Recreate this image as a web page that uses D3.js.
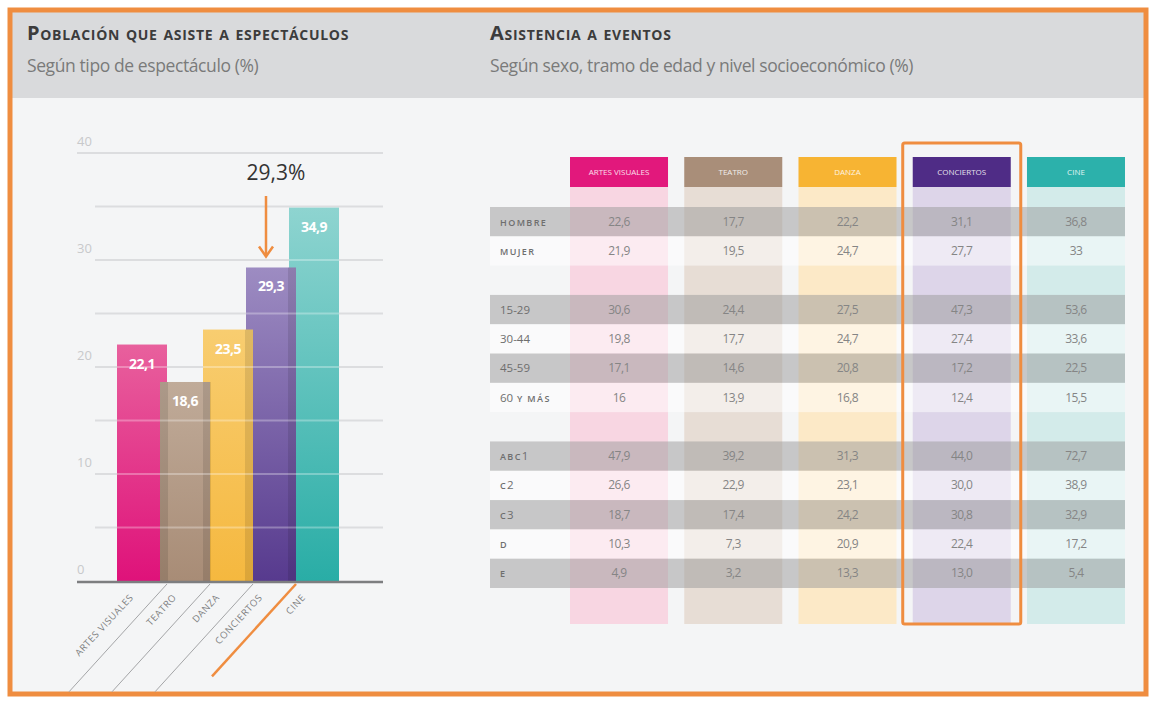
<!DOCTYPE html>
<html>
<head>
<meta charset="utf-8">
<script src="https://cdn.jsdelivr.net/npm/d3@7"></script>
<style>
    body { margin: 0; background: #ffffff; }
    text { font-family: 'Open Sans', sans-serif; }
</style>
</head>
<body>
<svg id="chart" width="1156" height="705"></svg>
<script>
'use strict';

// data
var categories = ['ARTES VISUALES', 'TEATRO', 'DANZA', 'CONCIERTOS', 'CINE'];
var totals = [22.1, 18.6, 23.5, 29.3, 34.9];
var totalLabels = ['22,1', '18,6', '23,5', '29,3', '34,9'];
var highlightLabel = '29,3%';
var yTicks = [0, 10, 20, 30, 40];
var gridTicks = [5, 10, 15, 20, 25, 30, 35, 40];

var rowLabels = ['HOMBRE', 'MUJER', '', '15-29', '30-44', '45-59', '60 Y MÁS', '', 'ABC1', 'C2', 'C3', 'D', 'E'];
var artesValues = ['22,6', '21,9', '', '30,6', '19,8', '17,1', '16', '', '47,9', '26,6', '18,7', '10,3', '4,9'];
var teatroValues = ['17,7', '19,5', '', '24,4', '17,7', '14,6', '13,9', '', '39,2', '22,9', '17,4', '7,3', '3,2'];
var danzaValues = ['22,2', '24,7', '', '27,5', '24,7', '20,8', '16,8', '', '31,3', '23,1', '24,2', '20,9', '13,3'];
var conciertosValues = ['31,1', '27,7', '', '47,3', '27,4', '17,2', '12,4', '', '44,0', '30,0', '30,8', '22,4', '13,0'];
var cineValues = ['36,8', '33', '', '53,6', '33,6', '22,5', '15,5', '', '72,7', '38,9', '32,9', '17,2', '5,4'];
var tableValues = [artesValues, teatroValues, danzaValues, conciertosValues, cineValues];

// styles
var colors = {
    solid: ['#e2187c', '#a98e79', '#f7b433', '#4f2c86', '#2cb1ab'],
    top: ['#e8609d', '#c0ab99', '#f8cd70', '#9d8cc2', '#8ed4d0'],
    bottom: ['#df127a', '#a88c76', '#f5b83f', '#573a8e', '#29ada6'],
    light: ['#f8d6e2', '#e7ddd5', '#fce9c7', '#ddd5e9', '#d3ebea']
};
var orange = '#ef8d40';

var svg = d3.select('#chart');
var defs = svg.append('defs');

// frame
svg.append('rect').attr('x', 10).attr('y', 10).attr('width', 1136).attr('height', 684)
    .attr('fill', '#f4f5f6');
svg.append('rect').attr('x', 10).attr('y', 10).attr('width', 1136).attr('height', 88)
    .attr('fill', '#d9dadc');
svg.append('rect').attr('x', 10).attr('y', 10).attr('width', 1136).attr('height', 684)
    .attr('fill', 'none').attr('stroke', orange).attr('stroke-width', 5);

// headers
function header (x, title, subtitle) {
    svg.append('text').attr('x', x).attr('y', 40)
        .style('font-variant', 'small-caps').style('font-weight', 700)
        .style('font-size', '20px').attr('fill', '#3c3c3c')
        .style('letter-spacing', '0.7px')
        .text(title);
    svg.append('text').attr('x', x).attr('y', 72)
        .style('font-size', '17.5px').attr('fill', '#7a7a7a')
        .style('letter-spacing', '-0.4px')
        .text(subtitle);
}
header(27, 'Población que asiste a espectáculos', 'Según tipo de espectáculo (%)');
header(490, 'Asistencia a eventos', 'Según sexo, tramo de edad y nivel socioeconómico (%)');

// ---------- left bar chart ----------
var x = d3.scaleBand().domain(categories).range([117, 332]).padding(0);
var barWidth = x.bandwidth() + 7;
var y = d3.scaleLinear().domain([0, 40]).range([581, 153]);

var grid = svg.append('g');
grid.selectAll('line')
    .data(gridTicks)
    .enter().append('line')
    .attr('x1', function (d) { return d === 40 ? 77 : 95; })
    .attr('x2', 383)
    .attr('y1', function (d) { return y(d); })
    .attr('y2', function (d) { return y(d); })
    .attr('stroke', '#dcdddf').attr('stroke-width', 2);

grid.selectAll('text')
    .data(yTicks)
    .enter().append('text')
    .attr('x', 77)
    .attr('y', function (d) { return y(d) - 7; })
    .attr('fill', '#c8c9cb')
    .style('font-size', '13px')
    .text(function (d) { return d; });

categories.forEach(function (c, i) {
    var g = defs.append('linearGradient').attr('id', 'grad' + i)
        .attr('x1', 0).attr('y1', 0).attr('x2', 0).attr('y2', 1);
    g.append('stop').attr('offset', '0%').attr('stop-color', colors.top[i]);
    g.append('stop').attr('offset', '100%').attr('stop-color', colors.bottom[i]);
});

// drawing order gives the overlapped look
var barOrder = [4, 3, 2, 0, 1];
var bars = svg.append('g');
barOrder.forEach(function (i) {
    var bx = x(categories[i]);
    bars.append('rect')
        .attr('x', bx).attr('y', y(totals[i]))
        .attr('width', barWidth).attr('height', y(0) - y(totals[i]))
        .attr('fill', 'url(#grad' + i + ')');
    // darker strips where the bar lies over a neighbour
    var strips = [];
    if (i === 1) { strips = [bx, bx + barWidth - 7]; }
    if (i === 2 || i === 3) { strips = [bx + barWidth - 8]; }
    strips.forEach(function (sx) {
        bars.append('rect')
            .attr('x', sx).attr('y', y(totals[i]))
            .attr('width', 8).attr('height', y(0) - y(totals[i]))
            .attr('fill', '#000').attr('opacity', 0.1);
    });
});

// light gridlines across bars
var barClip = defs.append('clipPath').attr('id', 'barclip');
categories.forEach(function (c, i) {
    barClip.append('rect').attr('x', x(c)).attr('y', y(totals[i]))
        .attr('width', barWidth).attr('height', y(0) - y(totals[i]));
});
svg.append('g').attr('clip-path', 'url(#barclip)')
    .selectAll('line')
    .data(gridTicks)
    .enter().append('line')
    .attr('x1', 95).attr('x2', 383)
    .attr('y1', function (d) { return y(d); })
    .attr('y2', function (d) { return y(d); })
    .attr('stroke', '#ffffff').attr('stroke-opacity', 0.3).attr('stroke-width', 2);

svg.append('line').attr('x1', 77).attr('x2', 383)
    .attr('y1', y(0) + 1).attr('y2', y(0) + 1)
    .attr('stroke', '#7d7e80').attr('stroke-width', 2.5);

svg.append('g').selectAll('text')
    .data(categories)
    .enter().append('text')
    .attr('x', function (d) { return x(d) + barWidth / 2; })
    .attr('y', function (d, i) { return y(totals[i]) + 24; })
    .attr('text-anchor', 'middle')
    .attr('fill', '#ffffff')
    .style('font-size', '14px').style('font-weight', 700)
    .style('letter-spacing', '-0.5px')
    .text(function (d, i) { return totalLabels[i]; });

// highlight callout
var hx = x('CONCIERTOS') + barWidth / 2 - 5;
svg.append('text').attr('x', hx + 10).attr('y', 180)
    .attr('text-anchor', 'middle').attr('fill', '#333')
    .style('font-size', '21px')
    .text(highlightLabel);
svg.append('line').attr('x1', hx).attr('x2', hx)
    .attr('y1', 196).attr('y2', y(29.3) - 12)
    .attr('stroke', orange).attr('stroke-width', 2.5);
svg.append('path')
    .attr('d', 'M' + (hx - 7) + ',' + (y(29.3) - 21) + 'L' + hx + ',' + (y(29.3) - 11) + 'L' + (hx + 7) + ',' + (y(29.3) - 21))
    .attr('fill', 'none').attr('stroke', orange).attr('stroke-width', 2.5);

// category labels
var catLabels = svg.append('g');
categories.forEach(function (c, i) {
    var right = x(c) + barWidth;
    if (i < 4) {
        var len = i === 3 ? 84 : 98;
        catLabels.append('line')
            .attr('x1', right).attr('y1', y(0) + 3)
            .attr('x2', right - len).attr('y2', y(0) + 3 + len * 1.1)
            .attr('stroke', i === 3 ? orange : '#a4a5a7')
            .attr('stroke-width', i === 3 ? 2.5 : 1);
    }
    catLabels.append('text')
        .attr('transform', 'translate(' + (x(c) + barWidth / 2 - 8) + ',' + 598 + ') rotate(-47)')
        .attr('text-anchor', 'end')
        .attr('fill', '#7e7f81')
        .style('font-size', '9.5px')
        .style('letter-spacing', '0.6px')
        .text(c);
});

// ---------- right table ----------
var cx = d3.scaleBand().domain(categories).range([570, 1125]).paddingInner(0.142).paddingOuter(0);
var ry = d3.scaleBand().domain(d3.range(rowLabels.length)).range([207, 588]);

var table = svg.append('g');
table.selectAll('.col-bg')
    .data(categories)
    .enter().append('rect')
    .attr('class', 'col-bg')
    .attr('x', function (d) { return cx(d); })
    .attr('y', 187)
    .attr('width', cx.bandwidth())
    .attr('height', 437)
    .attr('fill', function (d, i) { return colors.light[i]; });

var k = 0;
var rowTone = rowLabels.map(function (l) {
    if (l === '') { k = 0; return null; }
    k++;
    return (k % 2 === 1) ? 'dark' : 'light';
});

table.selectAll('.row-bg')
    .data(rowLabels)
    .enter().append('rect')
    .attr('class', 'row-bg')
    .attr('x', 490)
    .attr('y', function (d, i) { return ry(i); })
    .attr('width', 635)
    .attr('height', ry.bandwidth())
    .attr('fill', function (d, i) { return rowTone[i] === 'dark' ? '#9a9a9a' : '#ffffff'; })
    .attr('opacity', function (d, i) { return rowTone[i] === null ? 0 : 0.5; });

// row labels: digits at full size, letters as small spaced capitals
table.selectAll('.row-label')
    .data(rowLabels)
    .enter().append('text')
    .attr('class', 'row-label')
    .attr('x', 500)
    .attr('y', function (d, i) { return ry(i) + ry.bandwidth() / 2 + 4; })
    .attr('fill', '#6e6e6e')
    .each(function (d) {
        var t = d3.select(this);
        (d.match(/[\d-]+|[^\d-]+/g) || []).forEach(function (part) {
            var isNum = /\d/.test(part);
            t.append('tspan')
                .style('font-size', isNum ? '11.5px' : '9px')
                .style('font-weight', isNum ? 400 : 600)
                .style('letter-spacing', isNum ? '0px' : '1.4px')
                .text(part);
        });
    });

categories.forEach(function (c, j) {
    table.append('rect')
        .attr('x', cx(c)).attr('y', 157)
        .attr('width', cx.bandwidth()).attr('height', 30)
        .attr('fill', colors.solid[j]);
    table.append('text')
        .attr('x', cx(c) + cx.bandwidth() / 2).attr('y', 175)
        .attr('text-anchor', 'middle').attr('fill', '#ffffff')
        .attr('opacity', 0.85)
        .style('font-size', '8px')
        .text(c);

    table.append('g').selectAll('text')
        .data(tableValues[j])
        .enter().append('text')
        .attr('x', cx(c) + cx.bandwidth() / 2)
        .attr('y', function (d, i) { return ry(i) + ry.bandwidth() / 2 + 4; })
        .attr('text-anchor', 'middle')
        .attr('fill', '#858585')
        .style('font-size', '12px')
        .style('letter-spacing', '-0.6px')
        .text(function (d) { return d; });
});

// highlighted column
table.append('rect')
    .attr('x', cx('CONCIERTOS') - 10).attr('y', 143)
    .attr('width', cx.bandwidth() + 20).attr('height', 481)
    .attr('rx', 2)
    .attr('fill', 'none').attr('stroke', orange).attr('stroke-width', 3);
</script>
</body>
</html>
